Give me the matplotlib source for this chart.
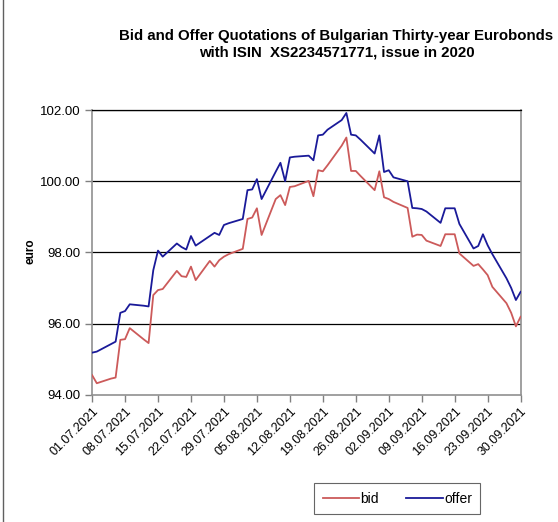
import datetime as dt

import matplotlib
matplotlib.use("Agg")
import matplotlib.pyplot as plt
from matplotlib.lines import Line2D

# quotation dates (business days) and prices
dates = [
    "01.07", "02.07", "05.07", "06.07", "07.07", "08.07", "09.07",
    "12.07", "13.07", "14.07", "15.07", "16.07",
    "19.07", "20.07", "21.07", "22.07", "23.07",
    "26.07", "27.07", "28.07", "29.07", "30.07",
    "02.08", "03.08", "04.08", "05.08", "06.08",
    "09.08", "10.08", "11.08", "12.08", "13.08",
    "16.08", "17.08", "18.08", "19.08", "20.08",
    "23.08", "24.08", "25.08", "26.08", "27.08",
    "30.08", "31.08", "01.09", "02.09", "03.09",
    "06.09", "07.09", "08.09", "09.09", "10.09",
    "13.09", "14.09", "15.09", "16.09", "17.09",
    "20.09", "21.09", "22.09", "23.09", "24.09",
    "27.09", "28.09", "29.09", "30.09",
]
bid = [
    94.55, 94.32, 94.45, 94.48, 95.54, 95.56, 95.87,
    95.55, 95.45, 96.80, 96.94, 96.97,
    97.48, 97.33, 97.31, 97.60, 97.22,
    97.76, 97.60, 97.78, 97.88, 97.95,
    98.10, 98.94, 98.98, 99.24, 98.49,
    99.50, 99.61, 99.33, 99.84, 99.86,
    100.01, 99.58, 100.31, 100.28, 100.45,
    101.00, 101.23, 100.29, 100.29, 100.15,
    99.75, 100.28, 99.55, 99.50, 99.42,
    99.25, 98.44, 98.50, 98.49, 98.33,
    98.18, 98.51, 98.51, 98.51, 97.97,
    97.62, 97.67, 97.52, 97.36, 97.03,
    96.57, 96.30, 95.92, 96.19,
]
offer = [
    95.18, 95.21, 95.42, 95.49, 96.30, 96.35, 96.54,
    96.50, 96.48, 97.50, 98.05, 97.88,
    98.25, 98.15, 98.08, 98.46, 98.19,
    98.46, 98.55, 98.49, 98.77, 98.82,
    98.94, 99.75, 99.77, 100.06, 99.50,
    100.27, 100.52, 100.00, 100.67, 100.69,
    100.72, 100.59, 101.29, 101.31, 101.45,
    101.72, 101.92, 101.31, 101.29, 101.17,
    100.78, 101.29, 100.26, 100.31, 100.11,
    100.00, 99.25, 99.24, 99.22, 99.15,
    98.83, 99.24, 99.24, 99.24, 98.80,
    98.11, 98.18, 98.51, 98.20, 97.95,
    97.27, 97.00, 96.66, 96.89,
]
yticks = [94, 96, 98, 100, 102]

x = [dt.datetime.strptime(d + ".2021", "%d.%m.%Y") for d in dates]
start, end = dt.datetime(2021, 7, 1), dt.datetime(2021, 9, 30)
xticks = [start + dt.timedelta(days=7 * i) for i in range(14)]

plt.rcParams["font.family"] = ["Liberation Sans", "DejaVu Sans"]

fig = plt.figure(figsize=(5.58, 5.22), dpi=100)
ax = fig.add_axes([0.165, 0.244, 0.768, 0.545])

for v in yticks[1:]:
    ax.axhline(v, color="black", lw=0.9, zorder=1)

ax.plot(x, bid, color="#cc5a5a", lw=1.3, label="bid", zorder=3)
ax.plot(x, offer, color="#1a1a99", lw=1.3, label="offer", zorder=3)

ax.set_xlim(start, end)
ax.set_ylim(94, 102)
ax.set_yticks(yticks)
ax.set_yticklabels([f"{v:.2f}" for v in yticks], fontsize=9.5)
ax.set_xticks(xticks)
ax.set_xticklabels([d.strftime("%d.%m.%Y") for d in xticks], rotation=45,
                   ha="right", rotation_mode="anchor", fontsize=9)
ax.tick_params(axis="both", direction="out", length=5, color="#808080", width=1)
ax.tick_params(axis="x", pad=3)

for s in ["left", "bottom", "right"]:
    ax.spines[s].set_color("#909090")
    ax.spines[s].set_linewidth(1.2)
ax.spines["top"].set_color("black")
ax.spines["top"].set_linewidth(0.9)

ax.set_ylabel("euro", fontsize=8.5, fontweight="bold")
ax.yaxis.set_label_coords(-0.13, 0.505)

fig.text(0.603, 0.915, "Bid and Offer Quotations of Bulgarian Thirty-year Eurobonds\n"
         "with ISIN  XS2234571771, issue in 2020",
         ha="center", va="center", fontsize=10.8, fontweight="bold", linespacing=1.2)

handles = [Line2D([], [], color="#cc5a5a", lw=1.3), Line2D([], [], color="#1a1a99", lw=1.3)]
leg = fig.legend(handles, ["bid", "offer"], loc="center", bbox_to_anchor=(0.712, 0.045),
                 ncol=2, frameon=True, fancybox=False, fontsize=10, handlelength=2.6,
                 handletextpad=0.1, columnspacing=2.0, borderpad=0.6)
leg.get_frame().set_edgecolor("#404040")
leg.get_frame().set_linewidth(0.8)

fig.add_artist(Line2D([0.005, 0.005], [0, 1], color="#606060", lw=1.0,
                      transform=fig.transFigure))

fig.savefig("out.png", dpi=100)
